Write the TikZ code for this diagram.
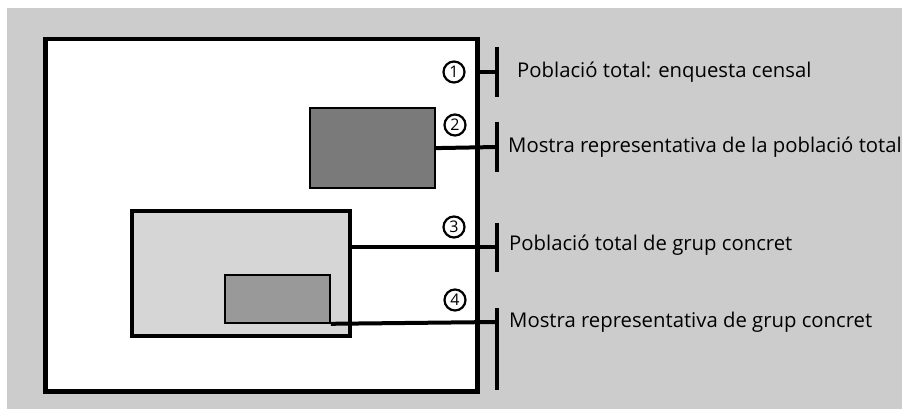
\documentclass[tikz,border=0pt]{standalone}
\usepackage{fontspec}
\setmainfont{Open Sans}
\definecolor{bggray}{HTML}{CCCCCC}
\definecolor{lightfill}{HTML}{D6D6D6}
\definecolor{darkfill}{HTML}{7A7A7A}
\definecolor{midfill}{HTML}{999999}
\begin{document}
\begin{tikzpicture}[x = 1pt, y = -1pt,
        box/.style = {draw, inner sep = 0pt, anchor = north west},
        num/.style = {circle, draw, line width = 2.2pt, inner sep = 0pt, minimum size = 21pt, font = \fontsize{16}{16}\selectfont},
        lbl/.style = {anchor = west, inner sep = 0pt, font = \fontsize{20.3}{20}\selectfont},
        link/.style = {line width = 4pt}]
            \useasboundingbox (0, 0) rectangle (902, 409);
            \fill [bggray] (7, 8) rectangle (902, 409);
            \node [box, fill = white, line width = 4.5pt, minimum width = 432pt, minimum height = 352pt] (total) at (43, 37) {};
            \node [box, fill = darkfill, line width = 2.2pt, minimum width = 125pt, minimum height = 80pt] (mostratotal) at (309, 107) {};
            \node [box, fill = lightfill, line width = 4pt, minimum width = 218pt, minimum height = 125pt] (grup) at (130, 209) {};
            \node [box, fill = midfill, line width = 1.8pt, minimum width = 105pt, minimum height = 48pt] (mostragrup) at (224, 274) {};

            \coordinate (b1) at (497, 72);
            \coordinate (b2) at (497, 147);
            \coordinate (b3) at (497, 247);
            \coordinate (b4) at (497, 322);
            \draw [link] (total.east |- b1) -- (b1);
            \draw [link] (mostratotal.east) -- (b2);
            \draw [link] (grup.east |- b3) -- (b3);
            \draw [link] (mostragrup.south east) -- (b4);
            \draw [link] (497, 47) -- (497, 97);
            \draw [link] (497, 122) -- (497, 172);
            \draw [link] (497, 223) -- (497, 272);
            \draw [link] (497, 308) -- (497, 390);

            \node [num] (n1) at (454, 72) {1};
            \node [num] (n2) at (455, 125) {2};
            \node [num] (n3) at (454, 227) {3};
            \node [num] (n4) at (455, 300) {4};

            \node [lbl] (t1) at (517, 72) {Població total: enquesta censal};
            \node [lbl] (t2) at (508, 147) {Mostra representativa de la població total};
            \node [lbl] (t3) at (509, 245) {Població total de grup concret};
            \node [lbl] (t4) at (509, 322) {Mostra representativa de grup concret};
        \end{tikzpicture}
\end{document}
